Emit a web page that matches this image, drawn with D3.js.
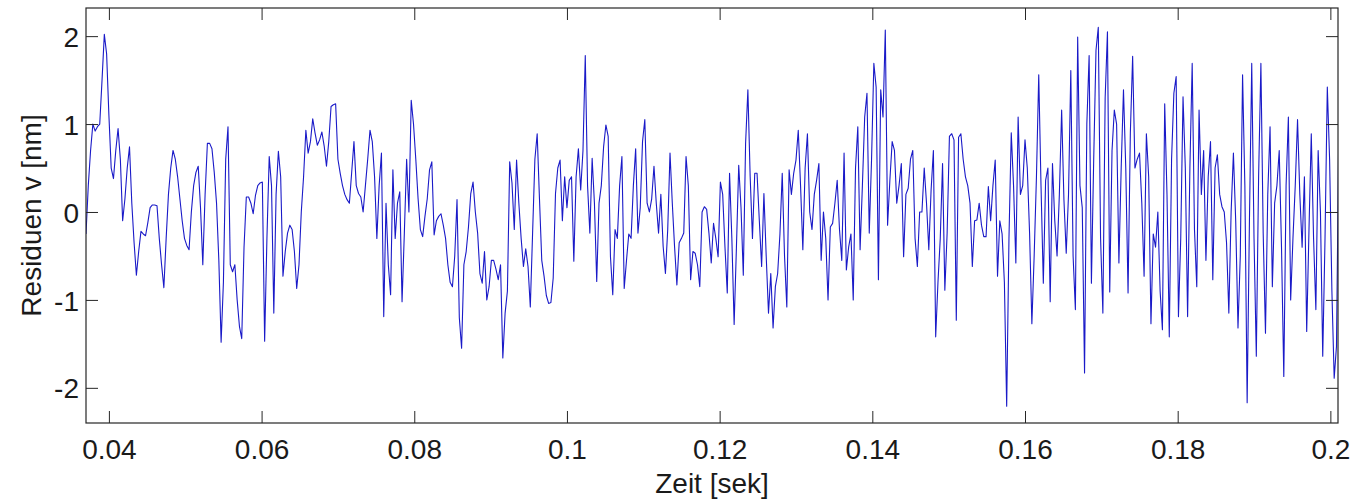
<!DOCTYPE html>
<html>
<head>
<meta charset="utf-8">
<script src="https://cdn.jsdelivr.net/npm/d3@7"></script>
<style>
  body { margin: 0; background: #fff; }
  text { font-family: "Liberation Sans", Arial, sans-serif; fill: #1a1a1a; }
</style>
</head>
<body>
<svg id="chart" width="1355" height="501"></svg>
<script>
// Abtastung
const startZeit = 0.037;
const schritt = 0.0003;

const abschnitt1 = [
  -0.25, 0.3, 0.7, 1.0, 0.92, 0.97, 1.0, 1.5, 2.02, 1.8,
  1.1, 0.5, 0.38, 0.7, 0.95, 0.6, -0.1, 0.15, 0.5, 0.74,
  0.1, -0.35, -0.72, -0.45, -0.22, -0.25, -0.27, -0.12, 0.05, 0.08,
  0.08, 0.07, -0.3, -0.6, -0.86, -0.3, 0.2, 0.5, 0.7, 0.6,
  0.4, 0.15, -0.1, -0.3, -0.38, -0.43, 0.0, 0.3, 0.45, 0.52,
  0.05, -0.6, 0.2, 0.78, 0.78, 0.72, 0.45, 0.1, -0.55, -1.48,
  -0.8, 0.6, 0.97, -0.6, -0.68, -0.6, -1.0, -1.3, -1.44, -0.4,
  0.17, 0.17
];
const abschnitt2 = [
  0.1, -0.02, 0.19, 0.3, 0.33, 0.34, -1.47, -0.3, 0.63, 0.3,
  -1.15, 0.2, 0.69, 0.4, -0.73, -0.45, -0.24, -0.15, -0.2, -0.45,
  -0.87, -0.6, 0.0, 0.4, 0.93, 0.67, 0.8, 1.06, 0.9, 0.76,
  0.82, 0.91, 0.75, 0.52, 0.8, 1.2, 1.22, 1.23, 0.6, 0.44,
  0.3, 0.2, 0.14, 0.1, 0.45, 0.8, 0.3, 0.21, 0.17, 0.0,
  0.3, 0.6, 0.93, 0.8, 0.4, -0.3, 0.3, 0.67, -1.19, 0.1,
  -0.6, -0.94, 0.48, -0.3, 0.1, 0.23, -1.02, -0.24, 0.6, 0.0
];
const abschnitt3 = [
  1.27, 1.0, 0.6, 0.15, -0.2, -0.28, -0.05, 0.15, 0.48, 0.57,
  -0.26, -0.1, -0.05, -0.02, -0.15, -0.3, -0.6, -0.8, -0.85, -0.5,
  0.14, -1.2, -1.55, -0.6, -0.45, -0.17, 0.21, 0.34, 0.0, -0.24,
  -0.7, -0.81, -0.45, -1.0, -0.85, -0.55, -0.55, -0.65, -0.77, -0.6,
  -1.66, -1.15, -0.9, 0.57, 0.33, -0.2, 0.59, 0.1, -0.3, -0.62,
  -0.42, -0.62, -1.08, -0.24, 0.6, 0.89, 0.15, -0.55, -0.73, -0.95,
  -1.04, -1.03, -0.75, 0.21, 0.5, 0.59, -0.1, 0.4, 0.05, 0.36
];
const abschnitt4 = [
  0.4, -0.56, 0.4, 0.72, 0.25, 0.7, 1.78, 0.3, -0.24, 0.61,
  0.1, -0.79, 0.1, 0.3, 0.74, 0.99, 0.86, -0.51, -0.94, -0.2,
  -0.3, 0.3, 0.63, -0.87, -0.55, -0.25, -0.3, 0.3, 0.72, -0.24,
  0.05, 0.8, 1.05, 0.1, 0.0, 0.15, 0.52, 0.1, -0.24, 0.2,
  -0.39, -0.7, -0.2, 0.67, 0.1, -0.4, -0.83, -0.35, -0.3, -0.24,
  0.63, 0.3, -0.77, -0.45, -0.47, -0.6, -0.85, 0.0, 0.06, 0.03,
  -0.24, -0.58, -0.13, -0.3, -0.51, 0.34, 0.2, -0.4, -0.92, 0.44
];
const abschnitt5 = [
  -0.3, -1.28, -0.4, 0.53, 0.05, -0.72, 0.78, 1.39, 0.4, -0.3,
  0.44, 0.44, -0.1, -0.62, 0.21, -0.5, -1.15, -0.7, -1.32, -0.85,
  -0.7, -0.25, 0.44, -0.5, -1.08, 0.48, 0.2, 0.44, 0.59, 0.93,
  0.3, -0.43, 0.5, 0.89, 0.0, -0.2, 0.2, 0.36, 0.55, -0.55,
  0.0, -0.3, -1.0, -0.17, -0.13, 0.1, 0.36, -0.2, -0.55, 0.67,
  -0.66, -0.4, -0.25, -1.0, 0.5, 0.97, -0.43, 0.3, 1.08, 1.35,
  -0.24, 0.6, 1.69, 1.42, -0.77, 1.39, 1.08, 2.07, -0.15, 0.36
];
const abschnitt6 = [
  0.8, 0.7, 0.1, 0.3, 0.55, -0.51, 0.2, 0.27, 0.6, 0.7,
  -0.3, -0.62, 0.0, 0.0, 0.5, 0.1, -0.43, 0.25, 0.7, -1.42,
  -0.8, -0.3, 0.55, -0.89, -0.24, 0.86, 0.89, 0.82, -1.23, 0.85,
  0.89, 0.6, 0.4, 0.3, 0.1, -0.62, -0.1, -0.09, 0.1, -0.15,
  -0.28, -0.28, 0.29, -0.1, 0.3, 0.59, -0.73, -0.1, -0.25, -0.8,
  -2.21, -0.3, 0.9, 0.3, -0.58, 1.08, 0.2, 0.3, 0.82, 0.5,
  -0.24, -1.27, -0.5, 0.4, 1.56, 0.29, -0.81, 0.36, 0.5, -1.02
];
const abschnitt7 = [
  0.55, -0.1, -0.5, 0.2, 1.16, 0.14, -0.47, 0.2, 1.61, -0.5,
  -1.11, 1.99, 0.3, 0.05, -1.83, 1.0, 1.78, -0.81, 0.6, 1.84,
  2.1, -0.3, -1.15, 1.3, 2.05, -0.91, 0.7, 1.16, 1.0, -0.58,
  0.5, 1.39, 0.5, -0.92, 0.9, 1.77, 0.5, 0.6, 0.67, 0.1,
  -0.73, 0.89, 0.4, -1.27, -0.25, -0.4, 0.0, -0.9, -1.34, 1.23,
  0.2, -1.42, 0.6, 1.35, 1.54, -1.19, -0.3, 1.31, 0.5, -1.19,
  0.5, 1.69, -0.2, -0.85, 1.16, 0.2, 0.7, -0.55, 0.4, 0.8
];
const abschnitt8 = [
  -0.77, 0.5, 0.65, 0.2, 0.06, 0.0, -0.35, -1.15, 0.0, 0.67,
  -0.1, -1.32, -0.5, 1.56, 0.3, -2.17, -0.1, 1.69, -0.3, -1.64,
  0.4, 1.69, -0.24, -1.38, 0.2, 0.97, -0.85, 0.1, 0.3, 0.7,
  -0.4, -1.87, 0.3, 1.08, -1.0, -0.3, 0.3, 1.05, 0.2, -0.4,
  0.4, -1.36, -0.2, 0.89, -0.3, -1.11, 0.7, 0.0, -1.64, -0.3,
  1.42, 0.6, -0.9, -1.89, -1.53, 0.89
];

const residuen = [].concat(abschnitt1, abschnitt2, abschnitt3, abschnitt4,
  abschnitt5, abschnitt6, abschnitt7, abschnitt8);

const xTicks = [0.04, 0.06, 0.08, 0.1, 0.12, 0.14, 0.16, 0.18, 0.2];
const yTicks = [-2, -1, 0, 1, 2];

const margin = { left: 86, top: 8, right: 1338, bottom: 423 };
const tickLen = 12;

const svg = d3.select("#chart");

const x = d3.scaleLinear().domain([0.037, 0.201]).range([margin.left, margin.right]);
const y = d3.scaleLinear().domain([-2.4, 2.32]).range([margin.bottom, margin.top]);

svg.append("rect")
    .attr("width", 1355).attr("height", 501).attr("fill", "#fff");

svg.append("clipPath").attr("id", "plotClip")
  .append("rect")
    .attr("x", margin.left).attr("y", margin.top)
    .attr("width", margin.right - margin.left)
    .attr("height", margin.bottom - margin.top);

// Messkurve
const line = d3.line()
    .x((d, i) => x(startZeit + i * schritt))
    .y(d => y(d));

svg.append("path")
    .datum(residuen)
    .attr("clip-path", "url(#plotClip)")
    .attr("fill", "none")
    .attr("stroke", "#1a1ac8")
    .attr("stroke-width", 1.1)
    .attr("stroke-linejoin", "round")
    .attr("d", line);

const fmt = d => String(+d.toFixed(2)).replace("\u2212", "-");

// Achsen, Ticks nach innen wie bei MATLAB
const xBottom = svg.append("g")
    .attr("transform", `translate(0,${margin.bottom})`)
    .call(d3.axisBottom(x).tickValues(xTicks).tickSizeInner(-tickLen).tickSizeOuter(0).tickFormat(fmt));
xBottom.selectAll("text").attr("y", 36).attr("dy", 0).style("font-size", "28px");

svg.append("g")
    .attr("transform", `translate(0,${margin.top})`)
    .call(d3.axisTop(x).tickValues(xTicks).tickSizeInner(-tickLen).tickSizeOuter(0).tickFormat(""));

const yLeft = svg.append("g")
    .attr("transform", `translate(${margin.left},0)`)
    .call(d3.axisLeft(y).tickValues(yTicks).tickSizeInner(-tickLen).tickSizeOuter(0).tickFormat(fmt));
yLeft.selectAll("text").attr("x", -7).attr("dy", "0.36em").style("font-size", "28px");

svg.append("g")
    .attr("transform", `translate(${margin.right},0)`)
    .call(d3.axisRight(y).tickValues(yTicks).tickSizeInner(-tickLen).tickSizeOuter(0).tickFormat(""));

svg.selectAll(".domain").remove();
svg.selectAll(".tick line").attr("stroke", "#262626");
svg.selectAll(".tick text").attr("fill", "#1a1a1a").style("font-family", "'Liberation Sans', Arial, sans-serif");

// Rahmen
svg.append("rect")
    .attr("x", margin.left).attr("y", margin.top)
    .attr("width", margin.right - margin.left)
    .attr("height", margin.bottom - margin.top)
    .attr("fill", "none")
    .attr("stroke", "#262626")
    .attr("stroke-width", 1.2);

// Beschriftung
svg.append("text")
    .attr("x", (margin.left + margin.right) / 2)
    .attr("y", 493)
    .attr("text-anchor", "middle")
    .style("font-size", "28px")
    .text("Zeit [sek]");

svg.append("text")
    .attr("transform", `translate(41,${(margin.top + margin.bottom) / 2}) rotate(-90)`)
    .attr("text-anchor", "middle")
    .style("font-size", "28px")
    .text("Residuen v [nm]");
</script>
</body>
</html>
